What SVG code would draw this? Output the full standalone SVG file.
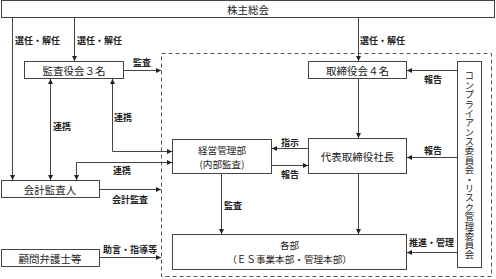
<svg xmlns="http://www.w3.org/2000/svg" width="496" height="279" viewBox="0 0 496 279">
<style>
.box{fill:#fff;stroke:#444;stroke-width:1}
.dash{fill:none;stroke:#555;stroke-width:1;stroke-dasharray:4 3}
.ln{fill:none;stroke:#444;stroke-width:1}
.bt{font-family:"Noto Sans CJK JP","Noto Sans",sans-serif;font-size:10.5px;fill:#222;text-anchor:middle;dominant-baseline:central}
.bt2{font-family:"Noto Sans CJK JP","Noto Sans",sans-serif;font-size:9.6px;fill:#222;text-anchor:middle;dominant-baseline:central}
.lb{font-family:"Noto Sans CJK JP","Noto Sans",sans-serif;font-size:9px;font-weight:bold;fill:#222;dominant-baseline:central}
.vt{font-family:"Noto Sans CJK JP",sans-serif;font-size:9.4px;fill:#222;writing-mode:vertical-rl;text-anchor:middle}
</style>
<defs>
<marker id="ah" viewBox="0 0 10 10" refX="10" refY="5" markerWidth="5" markerHeight="5" markerUnits="userSpaceOnUse" orient="auto-start-reverse">
<path d="M0,0 L10,5 L0,10 z" fill="#222"/>
</marker>
</defs>
<rect width="496" height="279" fill="#fff"/>
<rect class="dash" x="161.5" y="53.5" width="330" height="223"/>
<g id="connectors">
<line class="ln" x1="12.5" y1="18" x2="12.5" y2="180" marker-end="url(#ah)"/>
<line class="ln" x1="74.5" y1="18" x2="74.5" y2="61" marker-end="url(#ah)"/>
<line class="ln" x1="358.5" y1="18" x2="358.5" y2="61" marker-end="url(#ah)"/>
<line class="ln" x1="124" y1="70.5" x2="161" y2="70.5" marker-end="url(#ah)"/>
<line class="ln" x1="50.5" y1="79" x2="50.5" y2="180" marker-start="url(#ah)" marker-end="url(#ah)"/>
<path class="ln" d="M112.5,79 V151.5 H172" marker-start="url(#ah)" marker-end="url(#ah)"/>
<path class="ln" d="M172,162.5 H76.5 V180" marker-start="url(#ah)" marker-end="url(#ah)"/>
<line class="ln" x1="100" y1="189.5" x2="161" y2="189.5" marker-end="url(#ah)"/>
<line class="ln" x1="100" y1="257.5" x2="161" y2="257.5" marker-end="url(#ah)"/>
<line class="ln" x1="308" y1="148.5" x2="272" y2="148.5" marker-end="url(#ah)"/>
<line class="ln" x1="272" y1="165.5" x2="308" y2="165.5" marker-end="url(#ah)"/>
<line class="ln" x1="358.5" y1="79" x2="358.5" y2="138" marker-end="url(#ah)"/>
<line class="ln" x1="358.5" y1="174" x2="358.5" y2="234" marker-end="url(#ah)"/>
<line class="ln" x1="221.5" y1="174" x2="221.5" y2="234" marker-end="url(#ah)"/>
<line class="ln" x1="457" y1="70.5" x2="407" y2="70.5" marker-end="url(#ah)"/>
<line class="ln" x1="457" y1="157.5" x2="407" y2="157.5" marker-end="url(#ah)"/>
<line class="ln" x1="457" y1="252.5" x2="407" y2="252.5" marker-end="url(#ah)"/>
<text class="lb" x="15" y="40">選任・解任</text>
<text class="lb" x="77" y="40">選任・解任</text>
<text class="lb" x="360" y="40">選任・解任</text>
<text class="lb" x="133" y="62">監査</text>
<text class="lb" x="53" y="126">連携</text>
<text class="lb" x="114" y="117">連携</text>
<text class="lb" x="113" y="170">連携</text>
<text class="lb" x="112" y="199">会計監査</text>
<text class="lb" x="103" y="249">助言・指導等</text>
<text class="lb" x="281" y="142">指示</text>
<text class="lb" x="281" y="174">報告</text>
<text class="lb" x="424" y="79">報告</text>
<text class="lb" x="424" y="150">報告</text>
<text class="lb" x="409" y="242">推進・管理</text>
<text class="lb" x="224" y="205">監査</text>
</g>
<g id="shareholders">
<rect class="box" x="1.5" y="0.5" width="493" height="17"/>
<text class="bt" x="248" y="9.5">株主総会</text>
</g>
<g id="auditors">
<rect class="box" x="24.5" y="61.5" width="99" height="17"/>
<text class="bt" x="74" y="70">監査役会３名</text>
</g>
<g id="accounting-auditor">
<rect class="box" x="1.5" y="180.5" width="98" height="17"/>
<text class="bt" x="50" y="189">会計監査人</text>
</g>
<g id="lawyers">
<rect class="box" x="1.5" y="249.5" width="98" height="17"/>
<text class="bt" x="50" y="258">顧問弁護士等</text>
</g>
<g id="board">
<rect class="box" x="308.5" y="61.5" width="98" height="17"/>
<text class="bt" x="357.5" y="70">取締役会４名</text>
</g>
<g id="management">
<rect class="box" x="172.5" y="139.5" width="99" height="34"/>
<text class="bt2"><tspan x="222" y="149.5">経営管理部</tspan><tspan x="222" dy="14">(内部監査)</tspan></text>
</g>
<g id="president">
<rect class="box" x="308.5" y="138.5" width="98" height="35"/>
<text class="bt" x="357.5" y="156">代表取締役社長</text>
</g>
<g id="departments">
<rect class="box" x="172.5" y="234.5" width="234" height="35"/>
<text class="bt2"><tspan x="289.5" y="245">各部</tspan><tspan x="289.5" dy="14">（ＥＳ事業本部・管理本部）</tspan></text>
</g>
<g id="compliance">
<rect class="box" x="457.5" y="61.5" width="24" height="206"/>
<text class="vt" x="469.5" y="165">コンプライアンス委員会・リスク管理委員会</text>
</g>
</svg>
